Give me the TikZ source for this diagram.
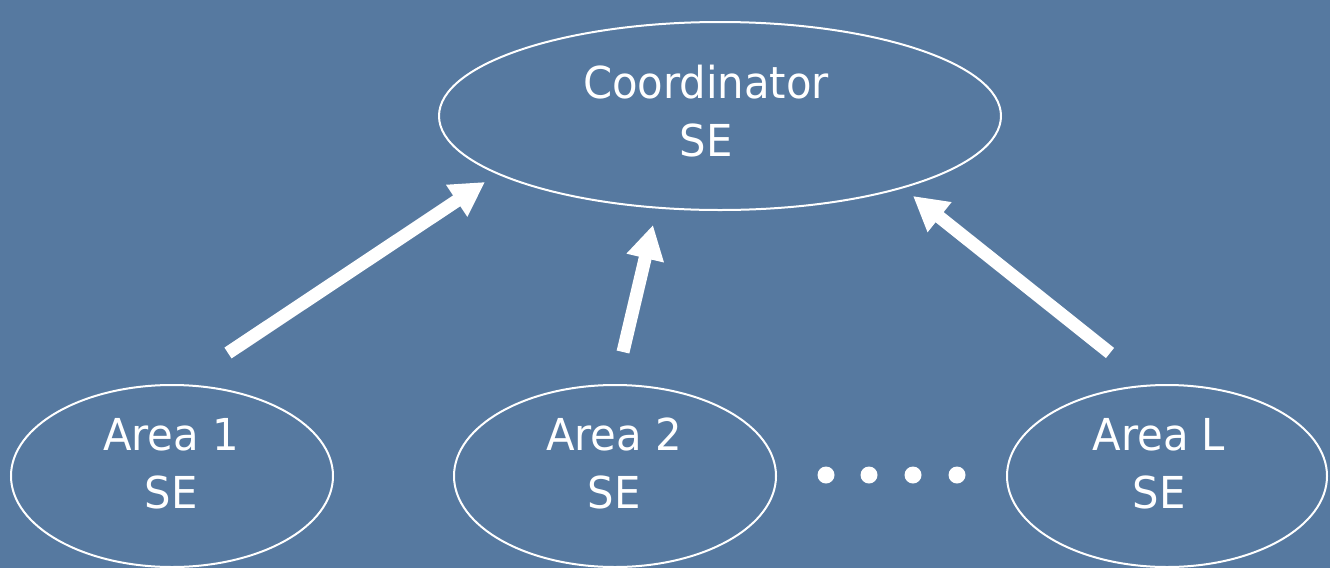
\documentclass[tikz,border=0pt]{standalone}
\usepackage{fontspec}
\setmainfont[FakeStretch=1.055]{DejaVu Sans Condensed}
\usetikzlibrary{shapes.geometric,arrows.meta}
\definecolor{slate}{RGB}{86,121,160}
\tikzset{
  se/.style={draw=white, line width=2pt, ellipse, inner sep=0pt},
  lbl/.style={text=white, align=center, anchor=base, inner sep=0pt,
              font=\fontsize{44}{58}\selectfont},
  feed/.style={white, line width=13pt, -{Triangle[length=34pt,width=36pt]}},
  dot/.style={circle, fill=white, minimum size=17pt, inner sep=0pt}
}
\begin{document}
\begin{tikzpicture}[x=1pt,y=-1pt]
  \fill[slate] (0,0) rectangle (1330,568);
  \useasboundingbox (0,0) rectangle (1330,568);

  % ellipses
  \node[se, minimum width=562pt, minimum height=188pt] (coord) at (720,116) {};
  \node[se, minimum width=322pt, minimum height=182pt] (a1) at (172,476) {};
  \node[se, minimum width=322pt, minimum height=182pt] (a2) at (615,476) {};
  \node[se, minimum width=320pt, minimum height=182pt] (aL) at (1167,476) {};

  % labels (anchored on the baseline of the second line)
  \node[lbl] (coordtxt) at (706,156) {Coordinator\\SE};
  \node[lbl] (a1txt) at (171,508) {Area 1\\SE};
  \node[lbl] (a2txt) at (614,508) {Area 2\\SE};
  \node[lbl] (aLtxt) at (1159,508) {Area L\\SE};

  % ellipsis dots between area 2 and area L
  \node[dot] (d1) at (826,475) {};
  \node[dot] (d2) at (869,475) {};
  \node[dot] (d3) at (913,475) {};
  \node[dot] (d4) at (957,475) {};

  % arrows from the areas up to the coordinator
  \coordinate (t1) at (228,353);
  \coordinate (h1) at (485,182);
  \coordinate (t2) at (623,352);
  \coordinate (h2) at (653,225);
  \coordinate (t3) at (1110,353);
  \coordinate (h3) at (913,196);
  \draw[feed] (t1) -- (h1);
  \draw[feed] (t2) -- (h2);
  \draw[feed] (t3) -- (h3);
\end{tikzpicture}
\end{document}
